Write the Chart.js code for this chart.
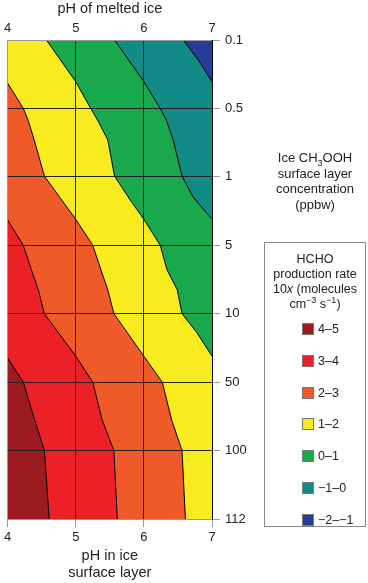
<!DOCTYPE html>
<html>
<head>
<meta charset="utf-8">
<script src="https://cdn.jsdelivr.net/npm/chart.js@4"></script>
<style>
  body { margin: 0; background: #fff; font-family: "Liberation Sans", Arial, sans-serif; color: #222; }
  #wrap { position: relative; width: 368px; height: 583px; }
  #axis-title { position: absolute; left: 259px; top: 150px; width: 112px; text-align: center; font-size: 13px; line-height: 15.6px; }
  #legend { position: absolute; left: 264px; top: 242px; width: 102px; height: 285px; border: 1px solid #888; box-sizing: border-box; font-size: 12.5px; }
  #legend .head { text-align: center; line-height: 15px; margin-top: 9px; }
  #legend .item { position: absolute; left: 37px; height: 14px; line-height: 14px; }
  #legend .sw { display: inline-block; width: 12px; height: 12px; border: 1px solid #777; box-sizing: border-box; vertical-align: top; margin-top: 1px; margin-right: 4px; }
  sub, sup { font-size: 9px; line-height: 0; }
</style>
</head>
<body>
<div id="wrap">
  <canvas id="contour"></canvas>
  <div id="axis-title">Ice CH<sub>3</sub>OOH<br>surface layer<br>concentration<br>(ppbw)</div>
  <div id="legend">
    <div class="head">HCHO<br>production rate<br>10<i>x</i> (molecules<br>cm<sup>−3</sup> s<sup>−1</sup>)</div>
  </div>
</div>
<script>
// axes
const phTicks = [4, 5, 6, 7];
const concLabels = ["0.1", "0.5", "1", "5", "10", "50", "100", "112"];

// legend bands, highest first
const rateBands = ["4–5", "3–4", "2–3", "1–2", "0–1", "−1–0", "−2–−1"];
const bandColours = ["#9b1b20", "#ec2027", "#f05a28", "#f8ec20", "#19a84b", "#128b86", "#253d98"];

// contour lines as [pH, row] pairs, row = index into concLabels
const contour4 = [[4, 4.65], [4.23, 5.0], [4.40, 5.56], [4.54, 6.0], [4.61, 7]];
const contour3 = [[4, 2.63], [4.23, 3.0], [4.35, 3.36], [4.45, 3.65], [4.54, 4.0], [5.0, 4.62], [5.25, 5.0], [5.39, 5.56], [5.56, 6.0], [5.61, 7]];
const contour2 = [[4, 0.63], [4.23, 1.0], [4.30, 1.17], [4.39, 1.46], [4.54, 1.99], [5.0, 2.62], [5.25, 3.0], [5.37, 3.36], [5.47, 3.65], [5.56, 4.0], [6.0, 4.62], [6.27, 5.0], [6.41, 5.56], [6.56, 6.0], [6.61, 7]];
const contour1 = [[4.57, 0], [5.0, 0.61], [5.22, 1.0], [5.32, 1.17], [5.47, 1.46], [5.57, 1.99], [5.80, 2.34], [6.0, 2.62], [6.24, 3.0], [6.34, 3.36], [6.49, 3.65], [6.56, 4.0], [6.78, 4.28], [7, 4.62]];
const contour0 = [[5.57, 0], [6.0, 0.61], [6.24, 1.0], [6.33, 1.17], [6.43, 1.46], [6.56, 1.99], [6.72, 2.29], [7, 2.62]];
const contourM1 = [[6.58, 0], [6.83, 0.34], [7, 0.61]];

const contours = [contour4, contour3, contour2, contour1, contour0, contourM1];

const phMin = phTicks[0];
const phMax = phTicks[phTicks.length - 1];
const rowMax = concLabels.length - 1;

// region below/left of a contour, closed through the plot corners
function belowLeft(contour) {
    const pts = contour.map(([x, y]) => ({x, y}));
    const first = contour[0];
    const last = contour[contour.length - 1];
    if (last[0] === phMax) pts.push({x: phMax, y: rowMax});
    pts.push({x: phMin, y: rowMax});
    if (first[1] === 0) pts.push({x: phMin, y: 0});
    return pts;
}

const lineSets = contours.map(c => ({
    data: c.map(([x, y]) => ({x, y})),
    borderColor: "#000",
    borderWidth: 1,
    pointRadius: 0,
    fill: false,
    tension: 0
}));

// fills: first dataset ends up on top
const fillSets = contours.map((c, i) => ({
    data: belowLeft(c),
    backgroundColor: bandColours[i],
    borderWidth: 0,
    pointRadius: 0,
    fill: "shape",
    tension: 0
}));
fillSets.push({
    data: [{x: phMin, y: 0}, {x: phMax, y: 0}, {x: phMax, y: rowMax}, {x: phMin, y: rowMax}],
    backgroundColor: bandColours[bandColours.length - 1],
    borderWidth: 0,
    pointRadius: 0,
    fill: "shape",
    tension: 0
});

// legend
const legend = document.getElementById("legend");
for (let i = 0; i < rateBands.length; i++) {
    const item = document.createElement("div");
    item.className = "item";
    item.style.top = (79 + i * 31.8) + "px";
    item.innerHTML = `<span class="sw" style="background:${bandColours[i]}"></span>${rateBands[i]}`;
    legend.appendChild(item);
}

Chart.defaults.font.family = '"Liberation Sans", Arial, sans-serif';
Chart.defaults.font.size = 13;
Chart.defaults.color = "#222";

const gray = "#9a9a9a";

new Chart(document.getElementById("contour"), {
    type: "line",
    data: { datasets: [...lineSets, ...fillSets] },
    options: {
        responsive: true,
        maintainAspectRatio: false,
        animation: false,
        events: [],
        layout: { padding: { left: 6, right: 0, top: 0, bottom: 0 } },
        plugins: { legend: { display: false }, tooltip: { enabled: false } },
        scales: {
            x: {
                type: "linear",
                position: "bottom",
                min: phMin, max: phMax,
                afterFit: s => { s.height = 64; },
                ticks: { stepSize: 1, padding: 3, maxRotation: 0 },
                grid: {
                    z: 1,
                    color: c => (c.tick.value === phMin ? gray : c.tick.value === phMax ? "#000" : "#222"),
                    tickColor: gray,
                    tickLength: 8,
                    lineWidth: 1
                },
                border: { color: gray, width: 1, z: 1 },
                title: {
                    display: true,
                    text: ["pH in ice", "surface layer"],
                    font: { size: 14.5 },
                    padding: { top: 0, bottom: 1 }
                }
            },
            x2: {
                type: "linear",
                position: "top",
                min: phMin, max: phMax,
                afterFit: s => { s.height = 40; },
                ticks: { stepSize: 1, padding: 4, maxRotation: 0 },
                grid: { display: false, drawTicks: false },
                border: { color: gray, width: 1, z: 1 },
                title: {
                    display: true,
                    text: "pH of melted ice",
                    font: { size: 14.5 },
                    padding: { top: 0, bottom: 0 }
                }
            },
            y: {
                type: "linear",
                position: "right",
                min: 0, max: rowMax,
                reverse: true,
                afterFit: s => { s.width = 156; },
                ticks: {
                    stepSize: 1,
                    padding: 5,
                    callback: v => concLabels[v]
                },
                grid: {
                    z: 1,
                    color: c => (c.tick.value === 0 || c.tick.value === rowMax ? gray : "#222"),
                    tickColor: gray,
                    tickLength: 8,
                    lineWidth: 1
                },
                border: { color: "#000", width: 1, z: 2 }
            }
        }
    }
});
</script>
</body>
</html>
